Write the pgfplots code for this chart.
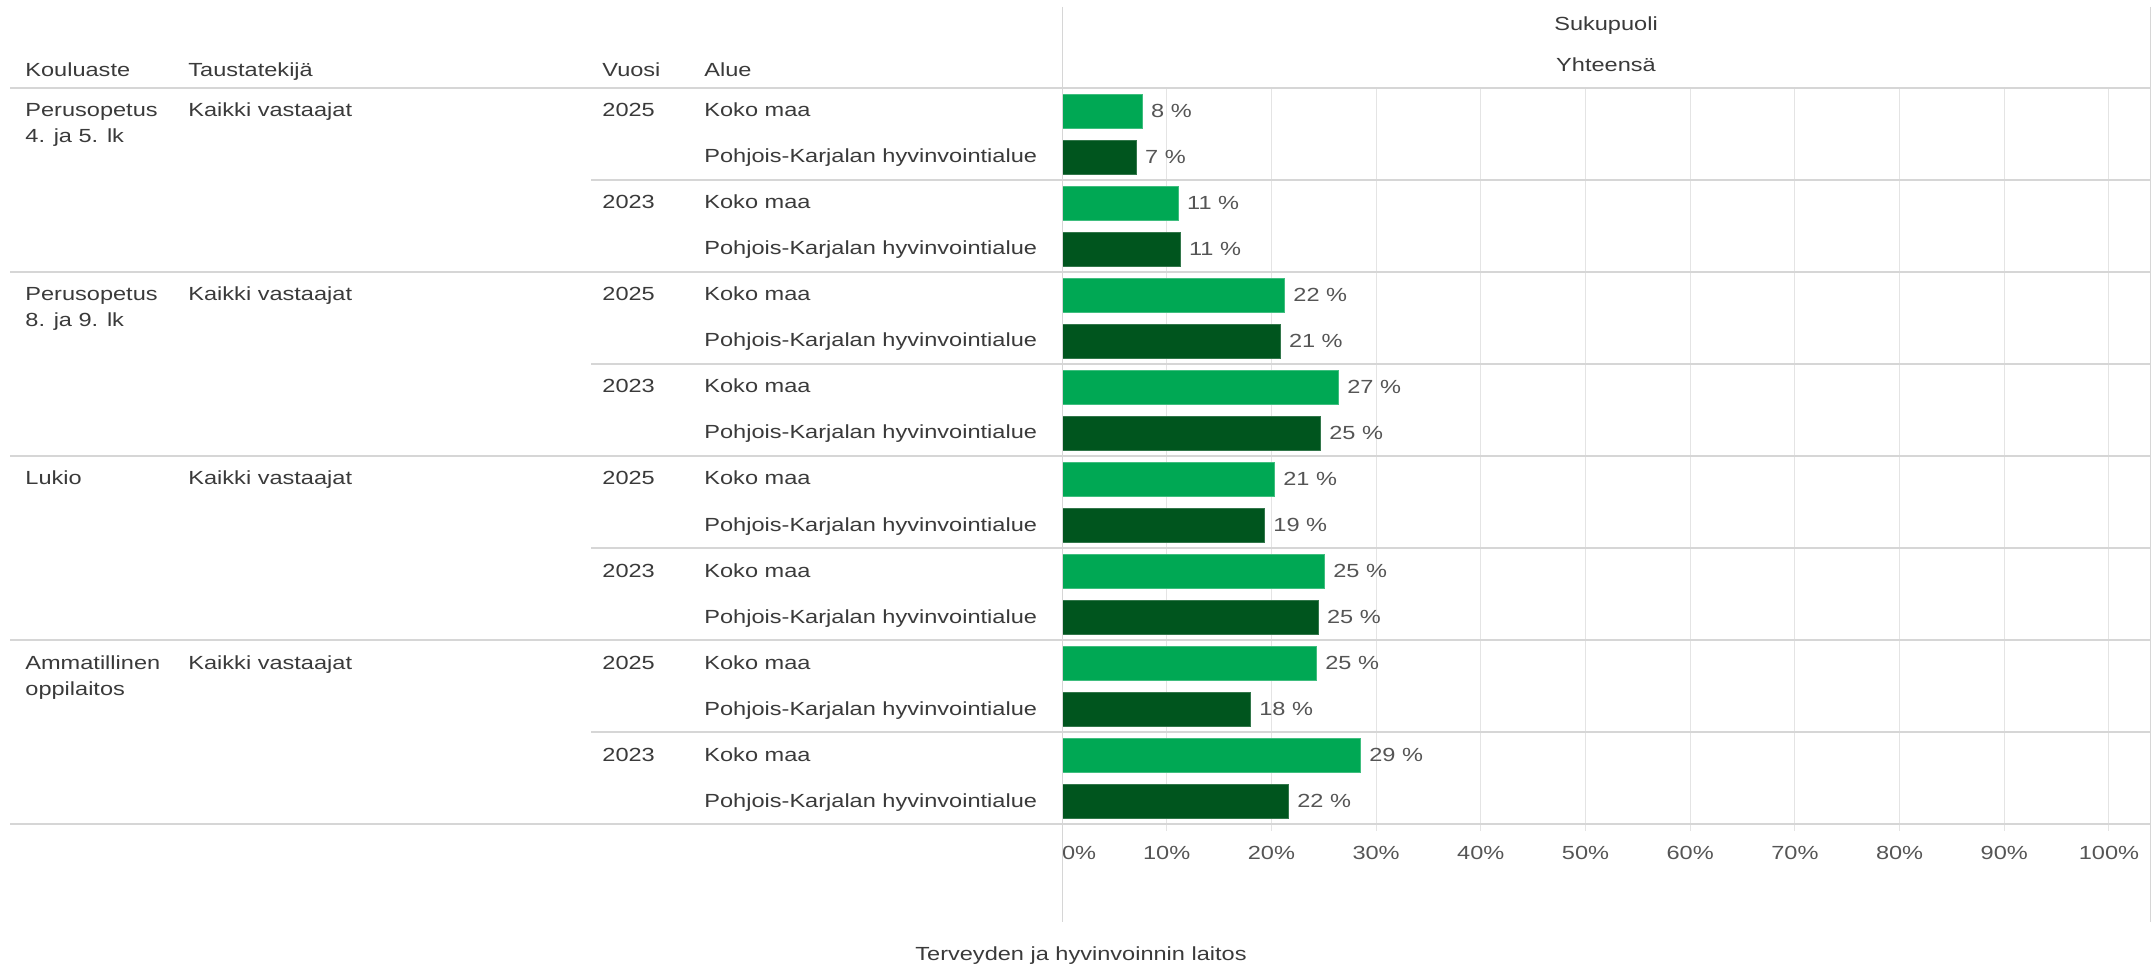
\documentclass[border=0pt]{standalone}
\usepackage{fontspec}
\setmainfont{Liberation Sans}[FakeStretch=1.24]
\usepackage{pgfplots}
\usepackage{pgfplotstable}
\pgfplotsset{compat=1.18}

\definecolor{koko}{HTML}{00A854}
\definecolor{pkarj}{HTML}{00551E}
\definecolor{txt}{HTML}{3A3A3A}
\definecolor{lbl}{HTML}{555555}
\definecolor{sepline}{HTML}{D6D6D6}
\definecolor{gridc}{HTML}{E4E4E4}
\newcommand{\fs}{\fontsize{9.5}{11}\selectfont}

% row = position from top, val = bar length, lab = printed value
\pgfplotstableread{
row val lab
0 7.70 8
2 11.14 11
4 21.29 22
6 26.44 27
8 20.33 21
10 25.10 25
12 24.34 25
14 28.54 29
}\kokomaa
\pgfplotstableread{
row val lab
1 7.13 7
3 11.33 11
5 20.87 21
7 24.72 25
9 19.38 19
11 24.50 25
13 18.04 18
15 21.67 22
}\pohjois

\begin{document}
\begin{tikzpicture}
\begin{scope}[x=0.5pt,y=-0.5pt]
\path[use as bounding box] (0,0) rectangle (2155,967);
\end{scope}
\begin{axis}[
    at={(531pt,-44pt)}, anchor=north west,
    scale only axis, width=544pt, height=368pt,
    xmin=0, xmax=103.92, ymin=-0.5, ymax=15.5,
    y dir=reverse,
    axis line style={draw=none},
    ytick=\empty,
    xtick={0,10,...,100},
    xticklabels={\makebox[0pt][l]{0\%},10\%,20\%,30\%,40\%,50\%,60\%,70\%,80\%,90\%,100\%},
    xtick pos=lower,
    xmajorgrids,
    grid style={gridc, line width=0.5pt},
    tick align=outside, major tick length=3.5pt,
    tick style={gridc, line width=0.5pt},
    xticklabel style={font=\fs, text=lbl, anchor=base, yshift=-14pt},
    clip=false,
    point meta=explicit symbolic,
    nodes near coords={\pgfplotspointmeta\ \%},
    every node near coord/.append style={font=\fs, text=lbl, anchor=west, inner sep=0pt, xshift=4pt},
]
\addplot[xbar, bar shift=0pt, bar width=17pt, fill=koko, draw=koko!75!white, line width=0.5pt]
    table[x=val, y=row, meta=lab]{\kokomaa};
\addplot[xbar, bar shift=0pt, bar width=17pt, fill=pkarj, draw=pkarj!80!white, line width=0.5pt]
    table[x=val, y=row, meta=lab]{\pohjois};
\end{axis}

\begin{scope}[x=0.5pt,y=-0.5pt, every node/.style={font=\fs, text=txt, inner sep=0pt}]
% table rules
\draw[sepline, line width=1pt] (10,88) -- (2150,88);
\foreach \y in {272,456,640,824} \draw[sepline, line width=1pt] (10,\y) -- (2150,\y);
\foreach \y in {180,364,548,732} \draw[sepline, line width=1pt] (591,\y) -- (2150,\y);
\draw[sepline, line width=0.5pt] (1062,7) -- (1062,922);
\draw[sepline, line width=0.5pt] (2150,7) -- (2150,922);
% headers
\node[anchor=base west] at (25,77) {Kouluaste};
\node[anchor=base west] at (188,77) {Taustatekijä};
\node[anchor=base west] at (602,77) {Vuosi};
\node[anchor=base west] at (704,77) {Alue};
\node[anchor=base] at (1606,31) {Sukupuoli};
\node[anchor=base] at (1606,72) {Yhteensä};
% group labels
\node[anchor=base west] at (25,117) {Perusopetus};
\node[anchor=base west] at (25,143) {4. ja 5. lk};
\node[anchor=base west] at (25,301) {Perusopetus};
\node[anchor=base west] at (25,327) {8. ja 9. lk};
\node[anchor=base west] at (25,485) {Lukio};
\node[anchor=base west] at (25,669) {Ammatillinen};
\node[anchor=base west] at (25,695) {oppilaitos};
\foreach \g in {0,...,3}{
  \pgfmathsetmacro\yb{117+184*\g}
  \node[anchor=base west] at (188,\yb) {Kaikki vastaajat};
  \node[anchor=base west] at (602,\yb) {2025};
  \node[anchor=base west] at (602,\yb+92) {2023};
  \foreach \k in {0,1}{
    \node[anchor=base west] at (704,\yb+92*\k) {Koko maa};
    \node[anchor=base west] at (704,\yb+92*\k+46) {Pohjois-Karjalan hyvinvointialue};
  }
}
% source
\node[anchor=base] at (1081,960) {Terveyden ja hyvinvoinnin laitos};
\end{scope}
\end{tikzpicture}
\end{document}
